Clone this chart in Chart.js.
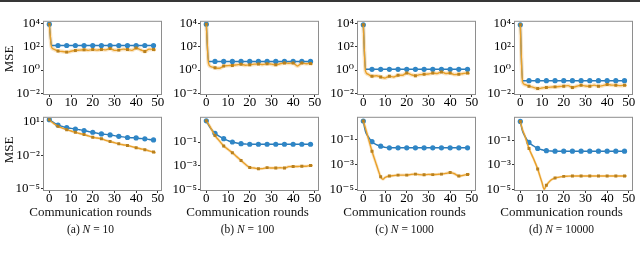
<!DOCTYPE html>
<html>
<head>
<meta charset="utf-8">
<script src="https://cdn.jsdelivr.net/npm/chart.js@4.4.1/dist/chart.umd.min.js"></script>
<style>
  body { margin: 0; width: 640px; height: 260px; background: #fff; position: relative; overflow: hidden;
         font-family: "Liberation Serif", "DejaVu Serif", serif; color: #111; }
  canvas { position: absolute; }
  #topbar { position: absolute; left: 0; top: 0; width: 640px; height: 2px; background: #363636; }
  .lbl { position: absolute; white-space: nowrap; transform: translate(-50%, -50%); }
  .ylab { transform: translate(-50%, -50%) rotate(-90deg); font-size: 13px; }
  .xlab { font-size: 13px; }
  .cap { font-size: 11.5px; }
</style>
</head>
<body>
<div id="topbar"></div>
<script>
const rounds = [0, 1, 2, 4, 6, 8, 9, 10, 11, 12, 14, 16, 18, 20, 22, 24, 26, 28, 30, 32, 34, 36, 38, 40, 42, 44, 46, 48, 49];
const xTicks = [0, 10, 20, 30, 40, 50];
const captionLetters = ['(a)', '(b)', '(c)', '(d)'];
const nValues = ['10', '100', '1000', '10000'];

// top row, MSE per round
const blueTop10 = [9000, 130, 130, 130, 130, 130, 130, 130, 130, 130, 130, 130, 130, 130, 130, 130, 130, 130, 130, 130, 130, 130, 130, 130, 130, 130, 130, 130, 130];
const orangeTop10 = [8900, 100, 63, 43, 40, 35, 37, 42, 46, 49, 52, 56, 50, 59, 52, 60, 55, 71, 50, 52, 63, 58, 50, 79, 56, 40, 63, 60, 50];
const blueTop100 = [9000, 5.5, 5.5, 5.5, 5.5, 5.5, 5.5, 5.5, 5.5, 5.5, 5.5, 5.5, 5.5, 5.5, 5.5, 5.5, 5.5, 5.5, 5.5, 5.5, 5.5, 5.5, 5.5, 5.5, 5.5, 5.5, 5.5, 5.5, 5.5];
const orangeTop100 = [8900, 4.0, 2.0, 1.58, 1.41, 2.19, 2.3, 2.4, 2.45, 2.5, 2.8, 3.1, 2.6, 2.8, 3.2, 3.3, 3.0, 3.5, 3.2, 2.8, 3.5, 4.0, 3.8, 4.0, 2.2, 4.0, 3.5, 3.7, 3.2];
const blueTop1000 = [8000, 1.15, 1.15, 1.15, 1.15, 1.15, 1.15, 1.15, 1.15, 1.15, 1.15, 1.15, 1.15, 1.15, 1.15, 1.15, 1.15, 1.15, 1.15, 1.15, 1.15, 1.15, 1.15, 1.15, 1.15, 1.15, 1.15, 1.15, 1.15];
const orangeTop1000 = [7900, 0.79, 0.45, 0.29, 0.32, 0.25, 0.22, 0.2, 0.25, 0.29, 0.25, 0.35, 0.35, 0.55, 0.4, 0.32, 0.4, 0.43, 0.45, 0.55, 0.5, 0.68, 0.5, 0.56, 0.4, 0.43, 0.5, 0.55, 0.5];
const blueTop10000 = [8000, 0.12, 0.12, 0.12, 0.12, 0.12, 0.12, 0.12, 0.12, 0.12, 0.12, 0.12, 0.12, 0.12, 0.12, 0.12, 0.12, 0.12, 0.12, 0.12, 0.12, 0.12, 0.12, 0.12, 0.12, 0.12, 0.12, 0.12, 0.12];
const orangeTop10000 = [7900, 0.1, 0.056, 0.04, 0.032, 0.025, 0.026, 0.028, 0.03, 0.031, 0.033, 0.035, 0.038, 0.04, 0.045, 0.031, 0.04, 0.049, 0.042, 0.04, 0.05, 0.04, 0.045, 0.056, 0.05, 0.049, 0.045, 0.049, 0.045];

// bottom row
const blueBottom10 = [15.1, 11.2, 8.3, 5.1, 3.8, 2.95, 2.75, 2.57, 2.4, 2.24, 1.91, 1.62, 1.35, 1.15, 0.95, 0.81, 0.74, 0.66, 0.58, 0.5, 0.44, 0.39, 0.37, 0.36, 0.32, 0.3, 0.26, 0.24, 0.23];
const orangeBottom10 = [15.1, 10, 7.1, 3.9, 2.7, 1.95, 1.7, 1.48, 1.29, 1.15, 0.89, 0.71, 0.54, 0.41, 0.35, 0.3, 0.22, 0.17, 0.135, 0.107, 0.089, 0.076, 0.06, 0.048, 0.039, 0.032, 0.025, 0.0195, 0.0174];
const blueBottom100 = [6.2, 2.8, 1.41, 0.55, 0.3, 0.19, 0.158, 0.132, 0.112, 0.1, 0.083, 0.072, 0.068, 0.065, 0.065, 0.065, 0.065, 0.065, 0.065, 0.065, 0.065, 0.065, 0.065, 0.065, 0.065, 0.065, 0.065, 0.065, 0.065];
const orangeBottom100 = [6.2, 3.2, 1.58, 0.35, 0.126, 0.047, 0.033, 0.024, 0.017, 0.0123, 0.0058, 0.0027, 0.0013, 0.0007, 0.00063, 0.00055, 0.00056, 0.00068, 0.00063, 0.00063, 0.00066, 0.00063, 0.00083, 0.00085, 0.00085, 0.00089, 0.00089, 0.00105, 0.001];
const blueBottom1000 = [3.2, 0.45, 0.2, 0.069, 0.04, 0.03, 0.027, 0.024, 0.023, 0.022, 0.022, 0.022, 0.022, 0.022, 0.022, 0.022, 0.022, 0.022, 0.022, 0.022, 0.022, 0.022, 0.022, 0.022, 0.022, 0.022, 0.022, 0.022, 0.022];
const orangeBottom1000 = [3.2, 0.79, 0.2, 0.0115, 0.001, 0.0001, 0.000063, 0.000089, 0.000105, 0.000115, 0.000126, 0.000138, 0.000138, 0.000138, 0.000158, 0.000166, 0.000151, 0.000145, 0.000158, 0.000151, 0.000158, 0.000166, 0.00019, 0.00022, 0.000178, 0.000115, 0.000132, 0.000158, 0.000166];
const blueBottom10000 = [3.8, 0.63, 0.25, 0.072, 0.038, 0.023, 0.02, 0.018, 0.016, 0.015, 0.014, 0.0135, 0.0135, 0.0135, 0.0135, 0.0135, 0.0135, 0.0135, 0.0135, 0.0135, 0.0135, 0.0135, 0.0135, 0.0135, 0.0135, 0.0135, 0.0135, 0.0135, 0.0135];
const orangeBottom10000 = [3.8, 0.79, 0.28, 0.023, 0.0035, 0.00047, 0.000126, 0.000035, 0.00001, 0.000021, 0.000056, 0.000085, 0.0001, 0.000115, 0.00012, 0.000123, 0.000123, 0.000123, 0.000123, 0.000123, 0.000123, 0.000123, 0.000123, 0.000123, 0.000123, 0.000123, 0.000123, 0.000123, 0.000123];

// y axis limits and ticks
const yTicksTop = [0.01, 1, 100, 10000];
const yTicksBottom10 = [1e-5, 1e-2, 10];
const yTicksBottom = [1e-5, 1e-3, 1e-1];
const yRangeTop = [0.0085, 14500];
const yRangeBottom = [[8.1e-6, 22.4], [8.7e-6, 11.2], [8.7e-6, 5.8], [8.7e-6, 7.6]];

// layout (px)
const BOX_LEFT = [44, 201, 358, 515];
const BOX_TOP = [21, 117];
const BOX_W = 117, BOX_H = 73;
const YW = 36, PT = 8, PR = 8, XH = 20;

const BLUE = '#2a7ab8', BLUE_MK = '#2f86c6';
const ORANGE = '#e8a02a', ORANGE_MK = '#b8801e', ORANGE_BAND = 'rgba(240,180,90,0.35)';

Chart.defaults.font.family = '"Liberation Serif", "DejaVu Serif", serif';
Chart.defaults.font.size = 13;
Chart.defaults.color = '#000';

const SUP = { '-': '\u207B', '0': '\u2070', '1': '\u00B9', '2': '\u00B2', '3': '\u00B3', '4': '\u2074', '5': '\u2075' };
function powLabel(v) {
  const e = String(Math.round(Math.log10(v)));
  return '10' + e.split('').map(c => SUP[c]).join('');
}

const framePlugin = {
  id: 'frame',
  afterDatasetsDraw(chart) {
    const { ctx, chartArea: a } = chart;
    ctx.save();
    ctx.strokeStyle = '#8e8e8e';
    ctx.lineWidth = 1;
    ctx.strokeRect(a.left - 0.5, a.top - 0.5, a.right - a.left + 1, a.bottom - a.top + 1);
    ctx.restore();
  }
};

function pts(arr) {
  return arr.map((v, i) => ({ x: rounds[i], y: v }));
}
const markerAt = r => ctx => (rounds[ctx.dataIndex] % 4 === 0 ? r : 0);

function makePanel(col, row, blue, orange, yRange, yTicks, bandWidth) {
  const canvas = document.createElement('canvas');
  canvas.width = YW + BOX_W + PR;
  canvas.height = PT + BOX_H + XH;
  canvas.style.left = (BOX_LEFT[col] - YW) + 'px';
  canvas.style.top = (BOX_TOP[row] - PT) + 'px';
  document.body.appendChild(canvas);

  new Chart(canvas.getContext('2d'), {
    type: 'line',
    data: {
      datasets: [
        {
          data: pts(orange), borderColor: ORANGE_BAND, borderWidth: bandWidth,
          pointRadius: 0, cubicInterpolationMode: 'monotone', order: 3
        },
        {
          data: pts(blue), borderColor: BLUE, borderWidth: 1.4,
          pointRadius: markerAt(2.6), pointBackgroundColor: BLUE_MK, pointBorderColor: BLUE_MK,
          pointBorderWidth: 0, cubicInterpolationMode: 'monotone', order: 2
        },
        {
          data: pts(orange), borderColor: ORANGE, borderWidth: 1.4,
          pointRadius: markerAt(2.1), pointStyle: 'rect', pointBackgroundColor: ORANGE_MK, pointBorderColor: ORANGE_MK,
          pointBorderWidth: 0, cubicInterpolationMode: 'monotone', order: 1
        }
      ]
    },
    options: {
      responsive: false,
      animation: false,
      events: [],
      layout: { padding: { left: 0, top: PT, right: PR, bottom: 0 } },
      plugins: { legend: { display: false }, tooltip: { enabled: false } },
      scales: {
        x: {
          type: 'linear', min: -2.45, max: 51.45,
          afterBuildTicks: s => { s.ticks = xTicks.map(v => ({ value: v })); },
          afterFit: s => { s.height = XH; },
          grid: { drawOnChartArea: false, tickLength: 3, color: '#333' },
          border: { display: false },
          ticks: { padding: -1, maxRotation: 0, autoSkip: false, font: { size: 13, lineHeight: 1 } }
        },
        y: {
          type: 'logarithmic', min: yRange[0], max: yRange[1],
          afterBuildTicks: s => { s.ticks = yTicks.map(v => ({ value: v })); },
          afterFit: s => { s.width = YW; },
          grid: { drawOnChartArea: false, tickLength: 3, color: '#333' },
          border: { display: false },
          ticks: { padding: 1, autoSkip: false, callback: v => powLabel(v), font: { size: 13 } }
        }
      }
    },
    plugins: [framePlugin]
  });
}

makePanel(0, 0, blueTop10, orangeTop10, yRangeTop, yTicksTop, 4);
makePanel(1, 0, blueTop100, orangeTop100, yRangeTop, yTicksTop, 4);
makePanel(2, 0, blueTop1000, orangeTop1000, yRangeTop, yTicksTop, 4);
makePanel(3, 0, blueTop10000, orangeTop10000, yRangeTop, yTicksTop, 4);
makePanel(0, 1, blueBottom10, orangeBottom10, yRangeBottom[0], yTicksBottom10, 2.5);
makePanel(1, 1, blueBottom100, orangeBottom100, yRangeBottom[1], yTicksBottom, 3);
makePanel(2, 1, blueBottom1000, orangeBottom1000, yRangeBottom[2], yTicksBottom, 3);
makePanel(3, 1, blueBottom10000, orangeBottom10000, yRangeBottom[3], yTicksBottom, 2.5);

function addLabel(cls, html, cx, cy) {
  const d = document.createElement('div');
  d.className = 'lbl ' + cls;
  d.innerHTML = html;
  d.style.left = cx + 'px';
  d.style.top = cy + 'px';
  document.body.appendChild(d);
}
addLabel('ylab', 'MSE', 9, 59);
addLabel('ylab', 'MSE', 9, 150);
for (let c = 0; c < 4; c++) {
  const cx = BOX_LEFT[c] + BOX_W / 2 - 12;
  addLabel('xlab', 'Communication rounds', cx, 212);
  addLabel('cap', captionLetters[c] + ' <i>N</i> = ' + nValues[c], cx, 229);
}
</script>
</body>
</html>
